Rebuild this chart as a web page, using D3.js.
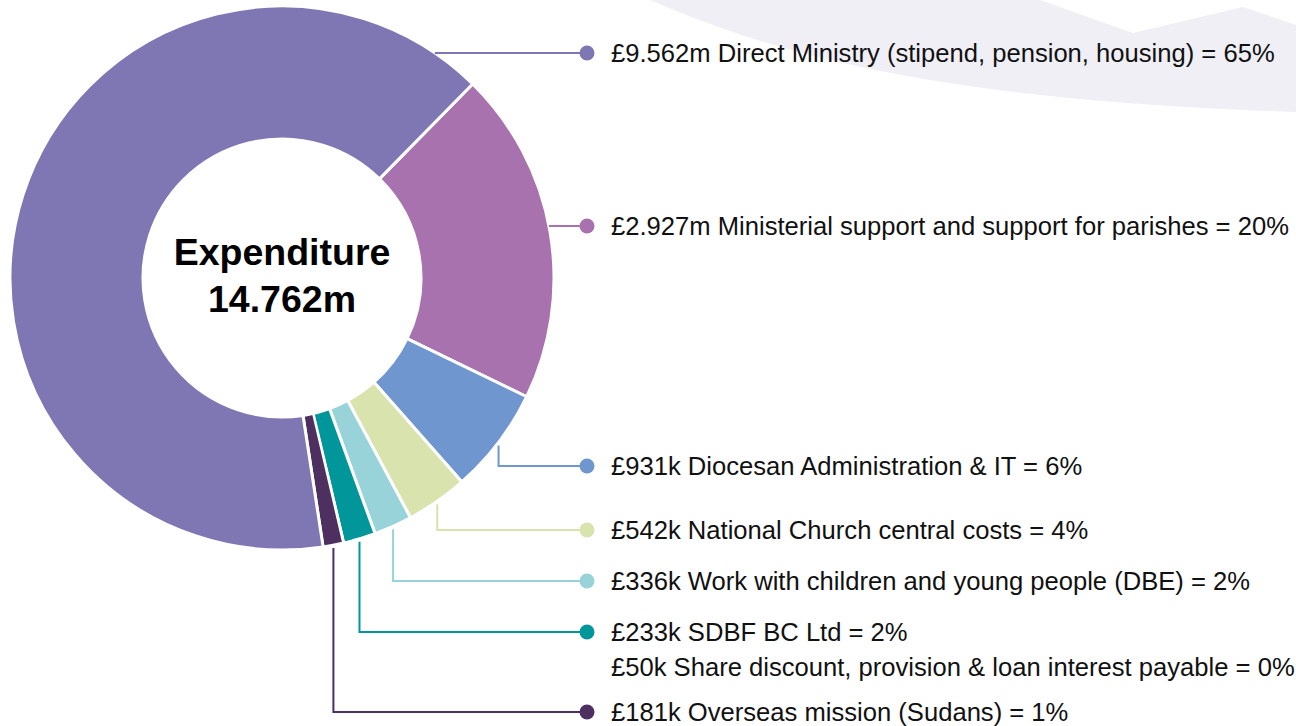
<!DOCTYPE html>
<html>
<head>
<meta charset="utf-8">
<script src="https://cdn.jsdelivr.net/npm/d3@7"></script>
<style>
  html, body { margin: 0; padding: 0; background: #fff; }
  svg { display: block; }
  text { font-family: "Liberation Sans", Arial, Helvetica, sans-serif; }
</style>
</head>
<body>
<svg id="chart" width="1296" height="726"></svg>
<script>
// ---- data (legend order) ----
const categories = [
  "Direct Ministry (stipend, pension, housing)",
  "Ministerial support and support for parishes",
  "Diocesan Administration & IT",
  "National Church central costs",
  "Work with children and young people (DBE)",
  "SDBF BC Ltd",
  "Share discount, provision & loan interest payable",
  "Overseas mission (Sudans)"
];
const amountLabels = ["£9.562m", "£2.927m", "£931k", "£542k", "£336k", "£233k", "£50k", "£181k"];
const values = [9562, 2927, 931, 542, 336, 233, 50, 181]; // £k
const percents = [65, 20, 6, 4, 2, 2, 0, 1];
const colors = ["#7F77B3", "#A872AE", "#7096CF", "#D8E3AE", "#98D3DA", "#00969A", "#00969A", "#4D3060"];
const showMarker = [true, true, true, true, true, true, false, true];
// order in which slices run clockwise around the ring
const pieOrder = [1, 2, 3, 4, 5, 6, 7, 0];
const centerTitle = "Expenditure";
const centerTotal = "14.762m";

// ---- layout ----
const svg = d3.select("#chart");
const W = 1296, H = 726;
const cx = 282, cy = 278, R = 272, r0 = 139;
const dotX = 587, textX = 611;
const labelY = [53, 226, 466, 530, 581, 632, 667, 712];
const deg = Math.PI / 180;
const start = 44.5 * deg;

// background swoosh
svg.append("path")
  .attr("d", "M650,0 L1040,0 L1133,33 L1243,7 L1296,25 L1296,112 C950,100 790,60 650,0 Z")
  .attr("fill", "#EFEFF5");

const items = values.map((v, i) => ({ i, value: v }));
const ordered = pieOrder.map(i => items[i]);

const pie = d3.pie().sort(null).value(d => d.value)
  .startAngle(start).endAngle(start + 2 * Math.PI);
const arcs = pie(ordered);
const arc = d3.arc().innerRadius(r0).outerRadius(R);

const g = svg.append("g").attr("transform", `translate(${cx},${cy})`);
g.selectAll("path.slice").data(arcs).join("path")
  .attr("class", "slice")
  .attr("d", arc)
  .attr("fill", d => colors[d.data.i])
  .attr("stroke", "#fff")
  .attr("stroke-width", 3)
  .attr("stroke-linejoin", "round");

const byIndex = {};
arcs.forEach(a => byIndex[a.data.i] = a);

// the share slice shares the SDBF colour: bridge the separator between them
const aT = byIndex[5], aS = byIndex[6];
g.append("path")
  .attr("d", d3.arc().innerRadius(r0 + 1.5).outerRadius(R - 1.5)
    .startAngle(aT.endAngle - 0.8 * deg).endAngle(aS.startAngle + 0.8 * deg)())
  .attr("fill", colors[5]);

// leader lines
const lines = svg.append("g");
items.forEach(d => {
  if (!showMarker[d.i]) return;
  const a = byIndex[d.i];
  const y = labelY[d.i];
  let path;
  if (d.i <= 1) {
    const x0 = cx + Math.sqrt(R * R - (y - cy) * (y - cy));
    path = `M${x0},${y} L${dotX},${y}`;
  } else {
    let s = a.startAngle, e = a.endAngle;
    if (d.i === 5) e = aS.endAngle;
    const mid = (s + e) / 2;
    const x0 = cx + R * Math.sin(mid);
    const y0 = cy - R * Math.cos(mid) + 3;
    path = `M${x0},${y0} L${x0},${y} L${dotX},${y}`;
  }
  lines.append("path")
    .attr("d", path)
    .attr("fill", "none")
    .attr("stroke", colors[d.i])
    .attr("stroke-width", 2);
  lines.append("circle")
    .attr("cx", dotX).attr("cy", y).attr("r", 7.5)
    .attr("fill", colors[d.i]);
});

// labels
svg.append("g").selectAll("text").data(items).join("text")
  .attr("x", textX)
  .attr("y", d => labelY[d.i] + 8.5)
  .attr("font-size", 25.6)
  .attr("fill", "#111")
  .text(d => `${amountLabels[d.i]} ${categories[d.i]} = ${percents[d.i]}%`);

// center text
g.append("text").attr("text-anchor", "middle").attr("y", -13)
  .attr("font-size", 37.5).attr("font-weight", "bold").attr("fill", "#000")
  .text(centerTitle);
g.append("text").attr("text-anchor", "middle").attr("y", 34)
  .attr("font-size", 37.5).attr("font-weight", "bold").attr("fill", "#000")
  .text(centerTotal);
</script>
</body>
</html>
